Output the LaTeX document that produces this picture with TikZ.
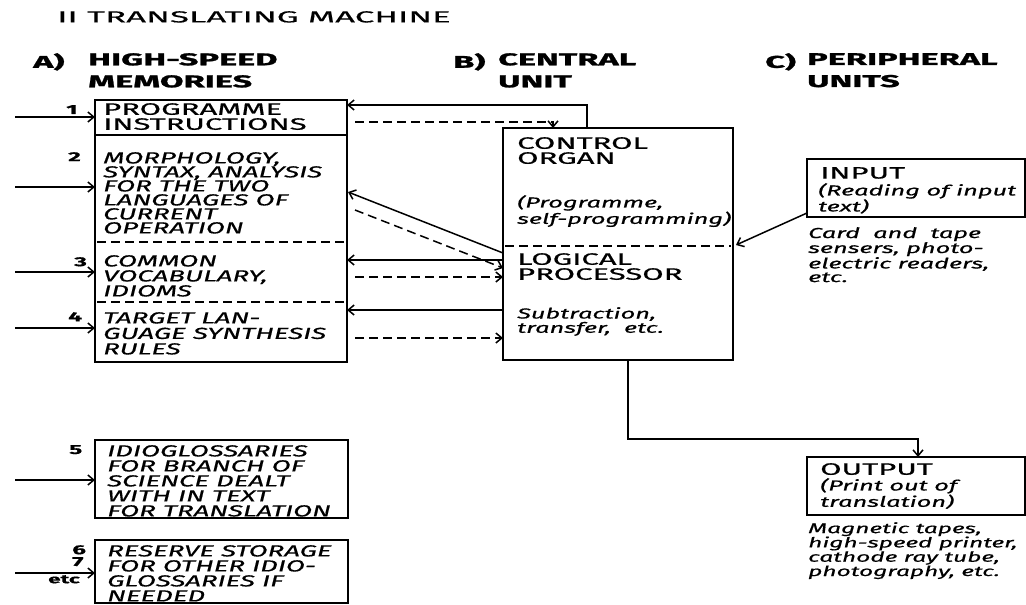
\documentclass[tikz,border=0pt]{standalone}
\usepackage{fontspec}
\usetikzlibrary{calc,arrows.meta}
\newfontfamily\titf{Fira Sans}[FakeStretch=2.18,FakeBold=0.3]
\newfontfamily\capf{Fira Sans}[FakeStretch=1.88,FakeBold=0.6]
\newfontfamily\icapf{Fira Sans}[FakeStretch=1.73,FakeBold=0.6]
\newfontfamily\lowf{Fira Sans}[FakeStretch=1.75,FakeBold=0.6]
\newfontfamily\headf{Fira Sans}[FakeStretch=2.02,BoldFeatures={FakeBold=1.4}]
\tikzset{
  box/.style={draw,line width=2pt,inner sep=0pt,outer sep=0pt,anchor=north west},
  conn/.style={line width=1.5pt,>={Straight Barb[length=6pt,width=10pt]}},
  dconn/.style={conn,dash pattern=on 9pt off 5pt},
  sep/.style={line width=1.4pt,dash pattern=on 9pt off 5pt},
  txt/.style={anchor=north west,inner sep=0pt,align=left,font=\capf\fontsize{16.5}{15}\selectfont},
  itxt/.style={txt,font=\icapf\itshape\fontsize{16}{15}\selectfont},
  ltxt/.style={txt,font=\lowf\itshape\fontsize{14.5}{13.6}\selectfont},
  head/.style={anchor=north west,inner sep=0pt,align=left,font=\headf\bfseries\fontsize{17}{22}\selectfont},
  num/.style={anchor=north west,inner sep=0pt,font=\capf\bfseries\fontsize{13}{13}\selectfont},
}
\begin{document}
\begin{tikzpicture}[x=1pt,y=-1pt]
\useasboundingbox (0,0) rectangle (1026,605);
% title and headers
\node[txt,font=\titf\fontsize{16}{16}\selectfont] (title) at (57,11) {II TRANSLATING MACHINE};
\node[head] (ha) at (33,53) {A)};
\node[head] (hat) at (88,53) {HIGH-SPEED\\MEMORIES};
\node[head] (hb) at (453,53) {B)};
\node[head] (hbt) at (498,53) {CENTRAL\\UNIT};
\node[head] (hc) at (765,53) {C)};
\node[head] (hct) at (807,53) {PERIPHERAL\\UNITS};
% boxes
\node[box,minimum width=252pt,minimum height=262pt] (mem) at (95,100) {};
\node[box,minimum width=253pt,minimum height=78pt] (st5) at (95,440) {};
\node[box,minimum width=253pt,minimum height=63pt] (st6) at (95,540) {};
\node[box,minimum width=230pt,minimum height=232pt] (cu) at (503,128) {};
\node[box,minimum width=218pt,minimum height=58pt] (inp) at (807,159) {};
\node[box,minimum width=218pt,minimum height=58pt] (outp) at (807,457) {};
% separators
\draw[line width=2pt] ($(mem.north west)+(0,35)$) -- ($(mem.north east)+(0,35)$);
\draw[sep] ($(mem.north west)+(2,142)$) -- ($(mem.north east)+(-2,142)$);
\draw[sep] ($(mem.north west)+(2,202)$) -- ($(mem.north east)+(-2,202)$);
\draw[sep] ($(cu.north west)+(2,118)$) -- ($(cu.north east)+(-2,118)$);
% memory texts
\node[txt] (t1) at (103,103) {PROGRAMME\\INSTRUCTIONS};
\node[itxt,font=\icapf\itshape\fontsize{16}{14}\selectfont] (t2) at (103,152) {MORPHOLOGY,\\SYNTAX, ANALYSIS\\FOR THE TWO\\LANGUAGES OF\\CURRENT\\OPERATION};
\node[itxt] (t3) at (103,255) {COMMON\\VOCABULARY,\\IDIOMS};
\node[itxt,font=\icapf\itshape\fontsize{16}{15.5}\selectfont] (t4) at (103,312) {TARGET LAN-\\GUAGE SYNTHESIS\\RULES};
\node[itxt] (t5) at (107,445) {IDIOGLOSSARIES\\FOR BRANCH OF\\SCIENCE DEALT\\WITH IN TEXT\\FOR TRANSLATION};
\node[itxt] (t6) at (107,545) {RESERVE STORAGE\\FOR OTHER IDIO-\\GLOSSARIES IF\\NEEDED};
% numbers
\node[num] (n1) at (66,105) {1};
\node[num] (n2) at (68,152) {2};
\node[num] (n3) at (74,257) {3};
\node[num] (n4) at (68,312) {4};
\node[num] (n5) at (69,445) {5};
\node[num] (n6) at (72,545) {6};
\node[num] (n7) at (72,557) {7};
\node[num,font=\capf\bfseries\fontsize{12}{12}\selectfont] (n8) at (48,575) {etc};
% central unit texts
\node[txt] (c1) at (517,137) {CONTROL\\ORGAN};
\node[ltxt,font=\lowf\itshape\fontsize{14.5}{12.5}\selectfont] (c2) at (517,195) {(Programme,\\self-programming)};
\node[txt] (c3) at (517,253) {LOGICAL\\PROCESSOR};
\node[ltxt,font=\lowf\itshape\fontsize{14.5}{13}\selectfont] (c4) at (517,307) {Subtraction,\\transfer, \ etc.};
% peripheral texts
\node[txt] (i1) at (820,167) {INPUT};
\node[ltxt,font=\lowf\itshape\fontsize{14.5}{16}\selectfont] (i1b) at (818,183) {(Reading of input\\text)};
\node[ltxt] (i2) at (808,227) {Card \ and \ tape\\sensers, photo-\\electric readers,\\etc.};
\node[txt] (o1) at (820,463) {OUTPUT};
\node[ltxt,font=\lowf\itshape\fontsize{14.5}{14.5}\selectfont] (o1b) at (820,478) {(Print out of\\translation)};
\node[ltxt,font=\lowf\itshape\fontsize{14}{14.3}\selectfont] (o2) at (808,522) {Magnetic tapes,\\high-speed printer,\\cathode ray tube,\\photography, etc.};
% incoming arrows on the left
\coordinate (a1) at (15,117);
\coordinate (a2) at (15,187);
\coordinate (a3) at (15,272);
\coordinate (a4) at (15,328);
\coordinate (a5) at (15,480);
\coordinate (a6) at (15,573);
\draw[conn,->] (a1) -- (a1 -| mem.west);
\draw[conn,->] (a2) -- (a2 -| mem.west);
\draw[conn,->] (a3) -- (a3 -| mem.west);
\draw[conn,->] (a4) -- (a4 -| mem.west);
\draw[conn,->] (a5) -- (a5 -| st5.west);
\draw[conn,->] (a6) -- (a6 -| st6.west);
% memory <-> central unit
\draw[conn,->] ($(cu.north west)+(84,0)$) |- ($(mem.north east)+(0,5)$);
\draw[dconn,->] ($(mem.north east)+(8,22)$) -| ($(cu.north west)+(50,0)$);
\draw[conn,->] ($(cu.north west)+(0,125)$) -- ($(mem.north east)+(1,92)$);
\draw[dconn,->] ($(mem.north east)+(8,110)$) -- ($(cu.north west)+(0,140)$);
\draw[conn,->] ($(cu.north west)+(0,132)$) -- ($(mem.north east)+(0,160)$);
\draw[dconn,->] ($(mem.north east)+(8,177)$) -- ($(cu.north west)+(0,149)$);
\draw[conn,->] ($(cu.north west)+(0,182)$) -- ($(mem.north east)+(0,210)$);
\draw[dconn,->] ($(mem.north east)+(8,238)$) -- ($(cu.north west)+(0,210)$);
% peripherals
\draw[conn,->] ($(inp.south west)+(0,-4)$) -- ($(cu.north east)+(3,117)$);
\coordinate (corner) at ($(cu.south west)+(125,79)$);
\draw[conn,->] ($(cu.south west)+(125,0)$) -- (corner) -| (outp.north -| 918,0);
\end{tikzpicture}
\end{document}
